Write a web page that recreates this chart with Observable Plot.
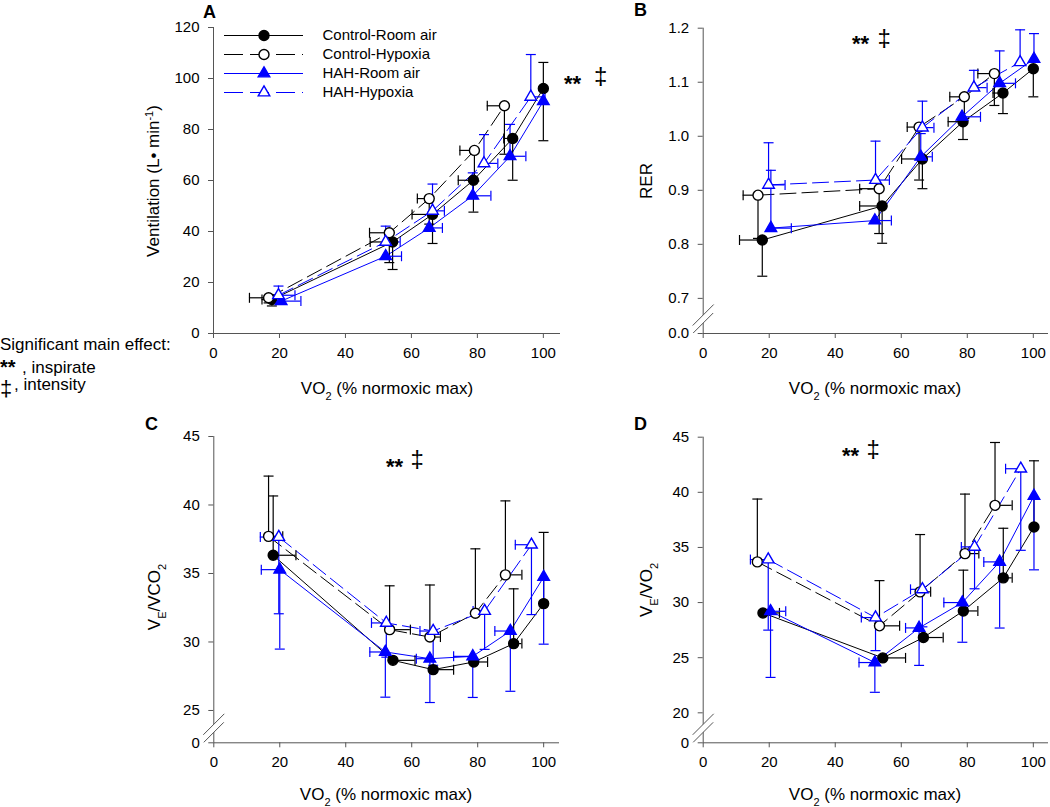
<!DOCTYPE html>
<html><head><meta charset="utf-8">
<script src="https://cdn.jsdelivr.net/npm/d3@7"></script>
<script src="https://cdn.jsdelivr.net/npm/@observablehq/plot@0.6"></script>
<style>
body{margin:0;background:#fff;}
#root{position:relative;width:1050px;height:807px;font-family:"Liberation Sans",Arial,sans-serif;overflow:hidden;}
.panel{position:absolute;}
.panel svg{overflow:visible;}
#overlay{position:absolute;left:0;top:0;pointer-events:none;}
</style>
</head><body><div id="root"></div>
<script>
// ---------- data ----------
const seriesNames = ["Control-Room air", "Control-Hypoxia", "HAH-Room air", "HAH-Hypoxia"];
const xTicks = [0, 20, 40, 60, 80, 100];
const ventTicks = [0, 20, 40, 60, 80, 100, 120];
const rerTicks = [0.7, 0.8, 0.9, 1.0, 1.1, 1.2];
const veco2Ticks = [25, 30, 35, 40, 45];
const veo2Ticks = [20, 25, 30, 35, 40, 45];
// rows: [VO2 (% normoxic max), value, y error (signed; or [down, up]), x error (signed)]
// A: Ventilation
const ventCR = [[17.7,13.3,-2.5,-3],[54.3,35.9,-10.8,-6.8],[66.4,46.7,-11.4,-6.2],[78.8,60.1,-12.5,-4.6],[90.7,76.5,-16.4,-2.7],[100,96.1,[-20.5,10.2],0]];
const ventCH = [[16.7,14,-2,-5.8],[53.3,39.5,-11.7,-6],[65.4,52.9,-10,-3.6],[79.1,71.8,-12,-4.4],[88.2,89.3,-19,-5.2]];
const ventHR = [[20.5,12.7,0,6],[52.2,30.3,0,4.8],[65.4,41.4,0,4],[78.6,54,9,5.5],[89.9,69.5,12.5,4.8],[100,91.1,0,0]];
const ventHH = [[19.7,15,3.6,5],[52.2,35.9,6.2,4.4],[66.4,48.1,10.5,3.6],[82,66.7,11.3,4.2],[96.2,92.8,16.6,4.3]];
// B: RER
const rerCR = [[17.9,0.808,-0.067,-6.9],[54.2,0.871,-0.069,-6.8],[66.4,0.958,-0.055,-6.3],[78.7,1.027,-0.033,-4.5],[90.8,1.080,-0.038,-3],[100,1.125,-0.052,0]];
const rerCH = [[16.6,0.891,-0.08,-4.5],[53.3,0.903,-0.083,-5.9],[65.4,1.017,-0.098,-3.6],[79.1,1.073,-0.04,-4.4],[88.2,1.116,-0.059,-5]];
const rerHR = [[20.5,0.830,0.107,6.2],[52,0.844,0,5],[65.9,0.962,0.043,3.5],[78.4,1.036,0,5.6],[89.8,1.098,0.06,4.8],[100.2,1.143,0.047,0]];
const rerHH = [[19.8,0.910,0.078,5],[52.2,0.919,0.072,4.2],[66.4,1.016,0.049,3.5],[82,1.09,0.032,4],[96,1.137,0.06,0]];
// C: VE/VCO2
const veco2CR = [[18,36.33,4.33,6.9],[54.3,28.66,0,6.7],[66.5,27.98,0,6.2],[78.8,28.54,0,4.2],[90.9,29.88,4.0,2.5],[100,32.8,5.2,0]];
const veco2CH = [[16.6,37.71,4.4,4.3],[53.3,30.9,3.2,6.3],[65.5,30.36,3.8,3.2],[79.3,32.1,4.7,0],[88.4,34.9,5.4,5]];
const veco2HR = [[20,35.28,-5.8,-5.6],[52,29.27,-3.3,-4.7],[65.5,28.78,-3.2,-4.1],[78.5,28.95,-3,-5.8],[89.9,30.8,-4.4,-4.7],[100,34.74,-4.9,0]];
const veco2HH = [[19.7,37.66,-5.6,-5.6],[52.3,31.39,-2.5,-4.5],[66.5,30.8,-2.5,-4],[82.1,32.26,-2.8,-3.5],[96.3,37.1,-5.1,-4.9]];
// D: VE/VO2
const veo2CR = [[18.1,29.06,0,5],[54.4,24.98,0,6.9],[66.7,26.83,0,6],[78.8,29.24,3.7,4.4],[90.9,32.24,4.5,2.7],[100.2,36.86,6,0]];
const veo2CH = [[16.4,33.69,5.7,0],[53.4,27.89,4.1,6.1],[65.7,30.97,5.2,3.2],[79.3,34.44,5.4,4.2],[88.4,38.82,5.7,5.2]];
const veo2HR = [[20.4,29.21,-6,4.6],[52,24.56,-2.7,-4.8],[65.4,27.7,-3.4,-4.1],[78.5,30,-3.6,-5.6],[89.8,33.69,-6,-4.8],[100.2,39.67,-6.7,0]];
const veo2HH = [[19.7,33.9,-6.4,-5.4],[52.2,28.64,-3,-4.3],[66.4,31.2,-3.4,-3.6],[82.2,35.05,-3.8,-4],[96.2,42.14,-7.4,-4.6]];

// ---------- styles ----------
const FONT = '"Liberation Sans", Arial, Helvetica, sans-serif';
const AXIS = "#555";
const BLUE = "#0000ff";
const styles = [
  {stroke: "#000", fill: "#000", symbol: "circle", dash: null, r: 5},
  {stroke: "#000", fill: "#fff", symbol: "circle", dash: "16,6", r: 5},
  {stroke: BLUE, fill: BLUE, symbol: "triangle", dash: null, r: 4.3},
  {stroke: BLUE, fill: "#fff", symbol: "triangle", dash: "16,6", r: 4.3}
];
const hCap = {draw(ctx, size) { const r = Math.sqrt(size / Math.PI); ctx.moveTo(-r, 0); ctx.lineTo(r, 0); }};
const vCap = {draw(ctx, size) { const r = Math.sqrt(size / Math.PI); ctx.moveTo(0, -r); ctx.lineTo(0, r); }};
const breakGap = {draw(ctx) { ctx.moveTo(-3, -1); ctx.lineTo(3, -7); ctx.lineTo(3, 1); ctx.lineTo(-3, 7); ctx.closePath(); }};
const breakLines = {draw(ctx) { ctx.moveTo(-10.5, 6.5); ctx.lineTo(10.5, -14.5); ctx.moveTo(-10, 14); ctx.lineTo(10, -6); }};

function errList(v) { return (Array.isArray(v) ? v : [v]).filter(e => e); }

function drawPanel(cfg, series) {
  const [lo, hi] = cfg.yDomain;
  const plotH = cfg.height - cfg.mT - cfg.mB;
  const ticks = cfg.brk ? [lo, ...cfg.yTicks] : cfg.yTicks;
  const marks = [
    Plot.ruleY([lo], {stroke: AXIS}),
    Plot.ruleX([0], {stroke: AXIS}),
    Plot.axisX({ticks: xTicks, tickSize: 5, tickPadding: 9, stroke: AXIS, fill: "#000", label: null, fontSize: 15}),
    Plot.axisY({ticks, tickSize: 5, tickPadding: 9, stroke: AXIS, fill: "#000", label: null, fontSize: 15,
      tickFormat: v => (cfg.brk && v === lo) ? cfg.zeroLabel : cfg.fmt(v)})
  ];
  if (cfg.brk) {
    const b = lo + 14.5 * (hi - lo) / plotH;
    marks.push(Plot.dot([b], {x: () => 0, y: d => d, symbol: breakGap, fill: "#fff", stroke: "none", r: 5}));
    marks.push(Plot.dot([b], {x: () => 0, y: d => d, symbol: breakLines, fill: "none", stroke: AXIS, strokeWidth: 1, r: 5}));
  }
  series.forEach((rows, i) => {
    const s = styles[i];
    marks.push(Plot.line(rows, {x: d => d[0], y: d => d[1], stroke: s.stroke, strokeWidth: 1, strokeDasharray: s.dash || undefined}));
  });
  series.forEach((rows, i) => {
    const s = styles[i];
    const ev = rows.flatMap(r => errList(r[2]).map(e => ({x: r[0], y: r[1], e: r[1] + e})));
    const eh = rows.flatMap(r => errList(r[3]).map(e => ({x: r[0], y: r[1], e: r[0] + e})));
    marks.push(Plot.ruleX(ev, {x: "x", y1: "y", y2: "e", stroke: s.stroke, strokeWidth: 1.2}));
    marks.push(Plot.dot(ev, {x: "x", y: "e", symbol: hCap, r: 5, stroke: s.stroke, strokeWidth: 1.2, fill: "none"}));
    marks.push(Plot.ruleY(eh, {y: "y", x1: "x", x2: "e", stroke: s.stroke, strokeWidth: 1.2}));
    marks.push(Plot.dot(eh, {x: "e", y: "y", symbol: vCap, r: 5, stroke: s.stroke, strokeWidth: 1.2, fill: "none"}));
  });
  series.forEach((rows, i) => {
    const s = styles[i];
    marks.push(Plot.dot(rows, {x: d => d[0], y: d => d[1], symbol: s.symbol, r: s.r,
      fill: s.fill, stroke: s.stroke, strokeWidth: 1.4}));
  });
  const svg = Plot.plot({
    width: cfg.width, height: cfg.height,
    marginLeft: cfg.mL, marginRight: cfg.mR, marginTop: cfg.mT, marginBottom: cfg.mB,
    x: {domain: [0, cfg.xMax], axis: null},
    y: {domain: cfg.yDomain, axis: null},
    style: {fontFamily: FONT, fontSize: "15px", background: "transparent", overflow: "visible", color: "#000"},
    marks
  });
  const div = document.createElement("div");
  div.className = "panel";
  div.style.left = cfg.left + "px";
  div.style.top = cfg.top + "px";
  div.appendChild(svg);
  document.getElementById("root").appendChild(div);
}

const f0 = d3.format("d"), f1 = d3.format(".1f");
drawPanel({left: 0, top: 0, width: 580, height: 400, mL: 213, mR: 20, mT: 27, mB: 67, xMax: 105.2,
  yDomain: [0, 120], yTicks: ventTicks, fmt: f0}, [ventCR, ventCH, ventHR, ventHH]);
drawPanel({left: 600, top: 0, width: 450, height: 400, mL: 102.7, mR: 2, mT: 27.7, mB: 67, xMax: 104.6,
  yDomain: [0.635, 1.2], yTicks: rerTicks, fmt: f1, brk: true, zeroLabel: "0.0"}, [rerCR, rerCH, rerHR, rerHH]);
drawPanel({left: 100, top: 400, width: 480, height: 407, mL: 113.3, mR: 21, mT: 36, mB: 64.7, xMax: 104.8,
  yDomain: [22.64, 45], yTicks: veco2Ticks, fmt: f0, brk: true, zeroLabel: "0"}, [veco2CR, veco2CH, veco2HR, veco2HH]);
drawPanel({left: 600, top: 400, width: 450, height: 407, mL: 102.7, mR: 2, mT: 36.7, mB: 64.7, xMax: 104.6,
  yDomain: [17.28, 45], yTicks: veo2Ticks, fmt: f0, brk: true, zeroLabel: "0"}, [veo2CR, veo2CH, veo2HR, veo2HH]);

// ---------- legend ----------
{
  const marks = [];
  seriesNames.forEach((name, i) => {
    const s = styles[i];
    marks.push(Plot.ruleY([name], {y: d => d, x1: () => 0, x2: () => 1, stroke: s.stroke, strokeWidth: 1, strokeDasharray: s.dash ? "19,7" : undefined}));
    marks.push(Plot.dot([name], {x: () => 0.5, y: d => d, symbol: s.symbol, r: s.r, fill: s.fill, stroke: s.stroke, strokeWidth: 1.4}));
    marks.push(Plot.text([name], {x: () => 1, y: d => d, text: d => d, textAnchor: "start", dx: 19, fontSize: 15, fill: "#000"}));
  });
  const svg = Plot.plot({
    width: 100, height: 75, marginLeft: 10, marginRight: 11, marginTop: 10, marginBottom: 8,
    x: {domain: [0, 1], axis: null},
    y: {type: "point", domain: seriesNames, axis: null, padding: 0},
    style: {fontFamily: FONT, fontSize: "15px", background: "transparent", overflow: "visible"},
    marks
  });
  const div = document.createElement("div");
  div.className = "panel";
  div.style.left = "214px"; div.style.top = "25px";
  div.appendChild(svg);
  document.getElementById("root").appendChild(div);
}

// ---------- text overlay ----------
{
  const t = (x, y, s, extra = "") => `<text x="${x}" y="${y}" ${extra}>${s}</text>`;
  const sub = s => `<tspan baseline-shift="sub" font-size="11">${s}</tspan>`;
  const sup = s => `<tspan baseline-shift="super" font-size="11">${s}</tspan>`;
  const vo2 = `VO${sub("2")}<tspan> (% normoxic max)</tspan>`;
  let h = "";
  // panel letters
  h += t(203, 18, "A", 'font-weight="bold" font-size="18"');
  h += t(634, 16, "B", 'font-weight="bold" font-size="18"');
  h += t(145, 430, "C", 'font-weight="bold" font-size="18"');
  h += t(634, 430, "D", 'font-weight="bold" font-size="18"');
  // x titles
  h += t(387, 394, vo2, 'text-anchor="middle" font-size="17"');
  h += t(875, 394, vo2, 'text-anchor="middle" font-size="17"');
  h += t(386, 800, vo2, 'text-anchor="middle" font-size="17"');
  h += t(875, 800, vo2, 'text-anchor="middle" font-size="17"');
  // y titles
  h += `<text transform="translate(159,181) rotate(-90)" text-anchor="middle" font-size="17">Ventilation (L• min${sup("-1")})</text>`;
  h += `<text transform="translate(652,181) rotate(-90)" text-anchor="middle" font-size="17">RER</text>`;
  h += `<text transform="translate(160,597) rotate(-90)" text-anchor="middle" font-size="17">V${sub("E")}<tspan>/VCO</tspan>${sub("2")}</text>`;
  h += `<text transform="translate(652,590) rotate(-90)" text-anchor="middle" font-size="17">V${sub("E")}<tspan>/VO</tspan>${sub("2")}</text>`;
  // significance marks
  const stars = [[564, 91], [852, 50.6], [386, 473.6], [842, 462.6]];
  const daggers = [[594, 84], [877.5, 46], [410.5, 467], [866.5, 457]];
  stars.forEach(([x, y]) => h += t(x, y, "**", 'font-weight="bold" font-size="22"'));
  daggers.forEach(([x, y]) => h += t(x, y, "‡", 'font-size="24"'));
  // left note
  h += t(0, 350, "Significant main effect:", 'font-size="17"');
  h += t(0, 374, "**", 'font-weight="bold" font-size="20"');
  h += t(22, 373, ", inspirate", 'font-size="17"');
  h += t(0, 396, "‡", 'font-size="22"');
  h += t(14, 390, ", intensity", 'font-size="17"');
  const svg = `<svg id="overlay" width="1050" height="807" font-family='${FONT}' fill="#000">${h}</svg>`;
  document.getElementById("root").insertAdjacentHTML("beforeend", svg);
}
</script>
</body></html>
